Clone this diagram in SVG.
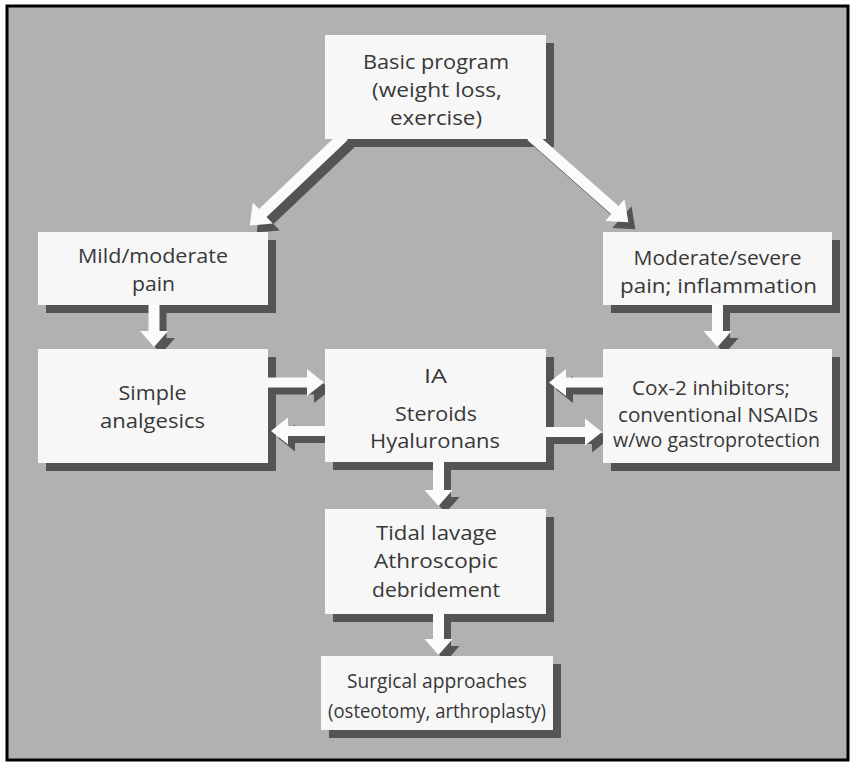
<svg xmlns="http://www.w3.org/2000/svg" width="857" height="769" viewBox="0 0 857 769">
<style>
.bg{fill:#b1b1b1}
.frame{fill:none;stroke:#000;stroke-width:3}
.sh{fill:#545454}
.box{fill:#f7f7f7}
.aw{fill:#fbfbfb}
.as{fill:#545454}
text{font-family:"Open Sans","Liberation Sans",sans-serif;font-size:20px;fill:#383838;text-anchor:middle}
</style>
<rect class="bg" x="7" y="6" width="841" height="754"/>
<rect class="frame" x="7" y="6" width="841" height="754"/>

<g id="box-shadows">
<rect class="sh" x="333" y="43" width="221" height="104"/>
<rect class="sh" x="46" y="240" width="230" height="73"/>
<rect class="sh" x="611" y="240" width="229" height="73"/>
<rect class="sh" x="46" y="357" width="230" height="114"/>
<rect class="sh" x="333" y="357" width="221" height="113"/>
<rect class="sh" x="611" y="357" width="229" height="114"/>
<rect class="sh" x="333" y="517" width="221" height="105"/>
<rect class="sh" x="329" y="664" width="232" height="74"/>
</g>

<g id="connectors">
<g class="as" transform="translate(7,7)">
<polygon points="148.5,305 159.5,305 159.5,331 168,331 154,347 140,331 148.5,331"/>
<polygon points="712,305 723,305 723,331 731.5,331 717.5,347 703.5,331 712,331"/>
<polygon points="433,462 444,462 444,490 452.5,490 438.5,506 424.5,490 433,490"/>
<polygon points="433,614 444,614 444,639 452.5,639 438.5,655 424.5,639 433,639"/>
<polygon points="268,377.5 307,377.5 307,369 324,382.5 307,396 307,387.5 268,387.5"/>
<polygon points="325,426 288,426 288,417.5 271,431 288,444.5 288,436 325,436"/>
<polygon points="603,377.5 566,377.5 566,369 549,382.5 566,396 566,387.5 603,387.5"/>
<polygon points="546,427 585,427 585,418.5 602,432 585,445.5 585,437 546,437"/>
<g transform="translate(344,136) rotate(136.5)"><polygon points="0,-5.5 112,-5.5 112,-14.5 130,0 112,14.5 112,5.5 0,5.5"/></g>
<g transform="translate(531,136) rotate(41.5)"><polygon points="0,-5.5 112,-5.5 112,-14.5 130,0 112,14.5 112,5.5 0,5.5"/></g>
</g>
<g class="aw">
<polygon points="148.5,305 159.5,305 159.5,331 168,331 154,347 140,331 148.5,331"/>
<polygon points="712,305 723,305 723,331 731.5,331 717.5,347 703.5,331 712,331"/>
<polygon points="433,462 444,462 444,490 452.5,490 438.5,506 424.5,490 433,490"/>
<polygon points="433,614 444,614 444,639 452.5,639 438.5,655 424.5,639 433,639"/>
<polygon points="268,377.5 307,377.5 307,369 324,382.5 307,396 307,387.5 268,387.5"/>
<polygon points="325,426 288,426 288,417.5 271,431 288,444.5 288,436 325,436"/>
<polygon points="603,377.5 566,377.5 566,369 549,382.5 566,396 566,387.5 603,387.5"/>
<polygon points="546,427 585,427 585,418.5 602,432 585,445.5 585,437 546,437"/>
<g transform="translate(344,136) rotate(136.5)"><polygon points="0,-5.5 112,-5.5 112,-14.5 130,0 112,14.5 112,5.5 0,5.5"/></g>
<g transform="translate(531,136) rotate(41.5)"><polygon points="0,-5.5 112,-5.5 112,-14.5 130,0 112,14.5 112,5.5 0,5.5"/></g>
</g>
</g>

<g id="basic">
<rect class="box" x="325" y="35" width="221" height="104"/>
<text x="436" y="69" textLength="146" lengthAdjust="spacingAndGlyphs">Basic program</text>
<text x="437" y="97" textLength="130" lengthAdjust="spacingAndGlyphs">(weight loss,</text>
<text x="436" y="125" textLength="92" lengthAdjust="spacingAndGlyphs">exercise)</text>
</g>
<g id="mild">
<rect class="box" x="38" y="232" width="230" height="73"/>
<text x="153" y="263" textLength="150" lengthAdjust="spacingAndGlyphs">Mild/moderate</text>
<text x="153.5" y="291" textLength="43" lengthAdjust="spacingAndGlyphs">pain</text>
</g>
<g id="moderate">
<rect class="box" x="603" y="232" width="229" height="73"/>
<text x="717.5" y="265" textLength="168" lengthAdjust="spacingAndGlyphs">Moderate/severe</text>
<text x="718.5" y="293" textLength="197" lengthAdjust="spacingAndGlyphs">pain; inflammation</text>
</g>
<g id="simple">
<rect class="box" x="38" y="349" width="230" height="114"/>
<text x="152.5" y="400" textLength="68" lengthAdjust="spacingAndGlyphs">Simple</text>
<text x="152.5" y="428" textLength="105" lengthAdjust="spacingAndGlyphs">analgesics</text>
</g>
<g id="ia">
<rect class="box" x="325" y="349" width="221" height="113"/>
<text x="435.5" y="383" textLength="23" lengthAdjust="spacingAndGlyphs">IA</text>
<text x="436" y="421" textLength="82" lengthAdjust="spacingAndGlyphs">Steroids</text>
<text x="435" y="448" textLength="130" lengthAdjust="spacingAndGlyphs">Hyaluronans</text>
</g>
<g id="cox">
<rect class="box" x="603" y="349" width="229" height="114"/>
<text x="711" y="395" textLength="158" lengthAdjust="spacingAndGlyphs">Cox-2 inhibitors;</text>
<text x="718" y="422" textLength="200" lengthAdjust="spacingAndGlyphs">conventional NSAIDs</text>
<text x="716.5" y="447" textLength="207" lengthAdjust="spacingAndGlyphs">w/wo gastroprotection</text>
</g>
<g id="tidal">
<rect class="box" x="325" y="509" width="221" height="105"/>
<text x="436.5" y="540" textLength="121" lengthAdjust="spacingAndGlyphs">Tidal lavage</text>
<text x="436" y="568" textLength="124" lengthAdjust="spacingAndGlyphs">Athroscopic</text>
<text x="436" y="597" textLength="128" lengthAdjust="spacingAndGlyphs">debridement</text>
</g>
<g id="surgical">
<rect class="box" x="321" y="656" width="232" height="74"/>
<text x="437" y="688" textLength="180" lengthAdjust="spacingAndGlyphs">Surgical approaches</text>
<text x="437" y="718" textLength="218" lengthAdjust="spacingAndGlyphs">(osteotomy, arthroplasty)</text>
</g>
</svg>
